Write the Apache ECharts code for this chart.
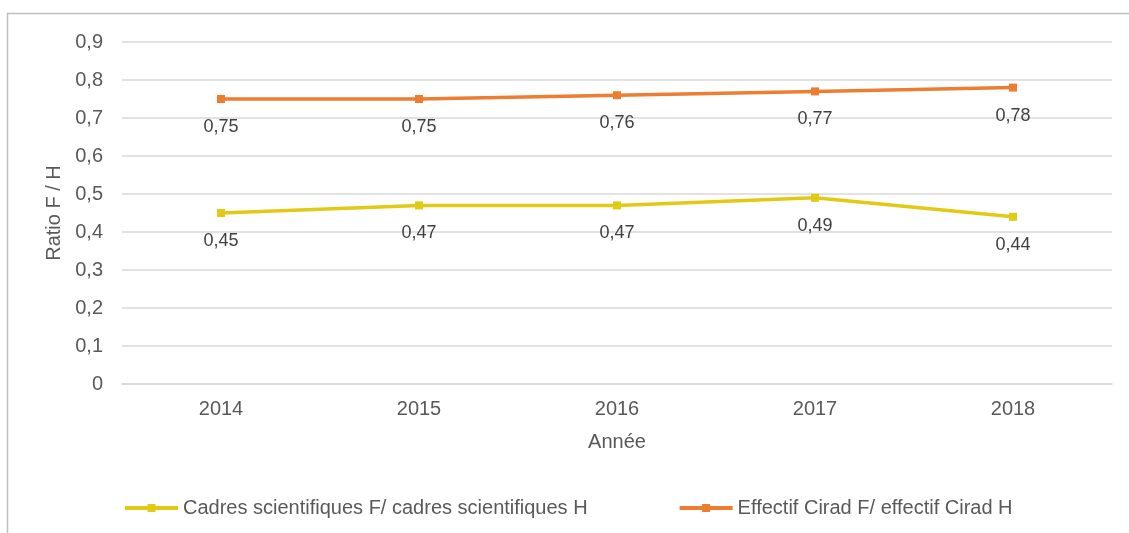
<!DOCTYPE html>
<html>
<head>
<meta charset="utf-8">
<script src="https://cdn.jsdelivr.net/npm/echarts@6/dist/echarts.min.js"></script>
<style>
    html, body { margin: 0; padding: 0; background: #fff; }
    #chart { width: 1129px; height: 533px; }
</style>
</head>
<body>
<div id="chart"></div>
<script>
// données
const years = ['2014', '2015', '2016', '2017', '2018'];
const cadresRatio = [0.45, 0.47, 0.47, 0.49, 0.44];
const effectifRatio = [0.75, 0.75, 0.76, 0.77, 0.78];
const seriesNames = ['Cadres scientifiques F/ cadres scientifiques H', 'Effectif Cirad F/ effectif Cirad H'];

const textColor = '#595959';
const fontFamily = '"Liberation Sans", Arial, sans-serif';

// format français : virgule décimale
const frNum = (v) => (v === 0 ? '0' : String(v).replace('.', ','));

const labelStyle = {
    show: true,
    position: 'bottom',
    distance: 15,
    color: '#404040',
    fontSize: 18,
    fontFamily: fontFamily,
    formatter: (p) => frNum(p.value)
};

const myChart = echarts.init(document.getElementById('chart'), null, { renderer: 'canvas' });

const options = {
    animation: false,
    textStyle: { fontFamily: fontFamily },
    // cadre du graphique (haut + gauche seulement)
    graphic: [
        {
            type: 'polyline',
            shape: { points: [[7.5, 533], [7.5, 13.5], [1129, 13.5]] },
            style: { stroke: '#BFBFBF', lineWidth: 1.5, fill: null },
            silent: true
        }
    ],
    grid: {
        left: 122,
        right: 17,
        top: 42,
        bottom: 149
    },
    legend: {
        left: 123,
        top: 498,
        padding: 0,
        itemWidth: 53,
        itemHeight: 10,
        itemGap: 90,
        lineStyle: { width: 4 },
        textStyle: { color: textColor, fontSize: 20, fontFamily: fontFamily },
        data: seriesNames
    },
    xAxis: {
        type: 'category',
        data: years,
        boundaryGap: true,
        name: 'Année',
        nameLocation: 'middle',
        nameGap: 48,
        nameTextStyle: { color: textColor, fontSize: 20 },
        axisLine: { show: true, lineStyle: { color: '#D9D9D9', width: 1.5 } },
        axisTick: { show: false },
        axisLabel: { color: textColor, fontSize: 20, margin: 15 }
    },
    yAxis: {
        type: 'value',
        min: 0,
        max: 0.9,
        interval: 0.1,
        name: 'Ratio F / H',
        nameLocation: 'middle',
        nameGap: 57,
        nameTextStyle: { color: textColor, fontSize: 20 },
        axisLine: { show: false },
        axisTick: { show: false },
        axisLabel: {
            color: textColor,
            fontSize: 20,
            margin: 19,
            formatter: (v) => frNum(Math.round(v * 10) / 10)
        },
        splitLine: { lineStyle: { color: '#D9D9D9', width: 1.5 } }
    },
    series: [
        {
            name: seriesNames[0],
            type: 'line',
            data: cadresRatio,
            symbol: 'rect',
            symbolSize: 8,
            lineStyle: { color: '#E2CA14', width: 3.5 },
            itemStyle: { color: '#E2CA14' },
            label: labelStyle
        },
        {
            name: seriesNames[1],
            type: 'line',
            data: effectifRatio,
            symbol: 'rect',
            symbolSize: 8,
            lineStyle: { color: '#ED7D31', width: 3.5 },
            itemStyle: { color: '#ED7D31' },
            label: labelStyle
        }
    ]
};

myChart.setOption(options);
</script>
</body>
</html>
